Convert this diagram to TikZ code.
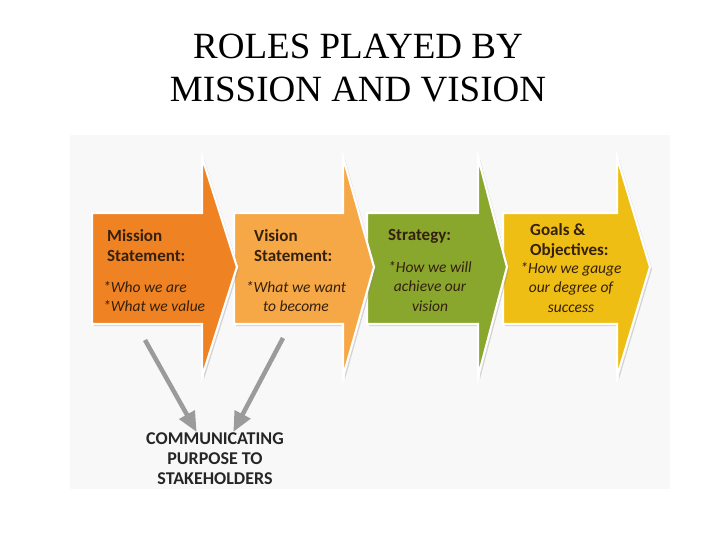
\documentclass[tikz,border=0pt]{standalone}
\usepackage{fontspec}
\setmainfont{Liberation Serif}
\newfontfamily\labelfont{Carlito}
\usepackage{tikz}
\usetikzlibrary{positioning,shadows,arrows.meta}

\definecolor{missionorange}{RGB}{239,130,34}
\definecolor{visionorange}{RGB}{246,168,70}
\definecolor{strategygreen}{RGB}{137,167,45}
\definecolor{goalsyellow}{RGB}{238,190,20}
\definecolor{inktext}{RGB}{52,32,14}
\definecolor{panelgray}{RGB}{248,248,248}
\definecolor{pointergray}{RGB}{155,155,155}

% body from x=#1 to x=#2, tip at x=#3
\newcommand{\stagearrow}[4]{%
  \filldraw[stageshape, fill=#4]
    (#1,213) -- (#2,213) -- (#2,157) -- (#3,267) -- (#2,377)
    -- (#2,324) -- (#1,324) -- cycle;
}

\begin{document}
\begin{tikzpicture}[x=1pt, y=-1pt]
        \tikzstyle{stageshape}=[draw=white, line width=2.2pt, line join=miter,
            drop shadow={shadow xshift=2pt, shadow yshift=-2pt, opacity=0.3, fill=gray}]
        \tikzstyle{heading}=[anchor=north west, inner sep=0pt, align=left, text=inktext,
            font=\labelfont\bfseries\fontsize{17}{20}\selectfont]
        \tikzstyle{detail}=[anchor=north, inner sep=0pt, text=inktext,
            font=\labelfont\itshape\fontsize{15.5}{19.5}\selectfont]
        \tikzstyle{pointer}=[draw=pointergray, line width=4.5pt,
            -{Triangle[length=20pt, width=17pt]}]

        \useasboundingbox (0,0) rectangle (720,540);
        \fill[panelgray] (70,135) rectangle (670,489);

        \node (title) at (358,68) [font=\fontsize{37}{43}\selectfont, align=center]
            {ROLES PLAYED BY\\MISSION AND VISION};

        \stagearrow{503}{617}{650}{goalsyellow}
        \stagearrow{367}{478}{507}{strategygreen}
        \stagearrow{234}{343}{374}{visionorange}
        \stagearrow{92}{202}{237}{missionorange}

        \node (missionhead)  at (107,229) [heading] {Mission\\Statement:};
        \node (missionbody)  at (103,281) [detail, anchor=north west, align=left]
            {*Who we are\\*What we value};
        \node (visionhead)   at (254,229) [heading] {Vision\\Statement:};
        \node (visionbody)   at (296,281) [detail, align=center]
            {*What we want\\to become};
        \node (strategyhead) at (388,229) [heading] {Strategy:};
        \node (strategybody) at (430,261) [detail, align=center]
            {*How we will\\achieve our\\vision};
        \node (goalshead)    at (530,223) [heading] {Goals \&\\Objectives:};
        \node (goalsbody)    at (571,262) [detail, align=center]
            {*How we gauge\\our degree of\\success};

        \node (purpose) at (215,432) [anchor=north, inner sep=0pt, align=center,
            text=black!85, font=\labelfont\bfseries\fontsize{18}{20}\selectfont]
            {COMMUNICATING\\PURPOSE TO\\STAKEHOLDERS};

        \coordinate (missionfoot) at (145,340);
        \coordinate (visionfoot)  at (283,338);
        \draw[pointer] (missionfoot) -- (purpose.125);
        \draw[pointer] (visionfoot)  -- (purpose.55);

\end{tikzpicture}
\end{document}
